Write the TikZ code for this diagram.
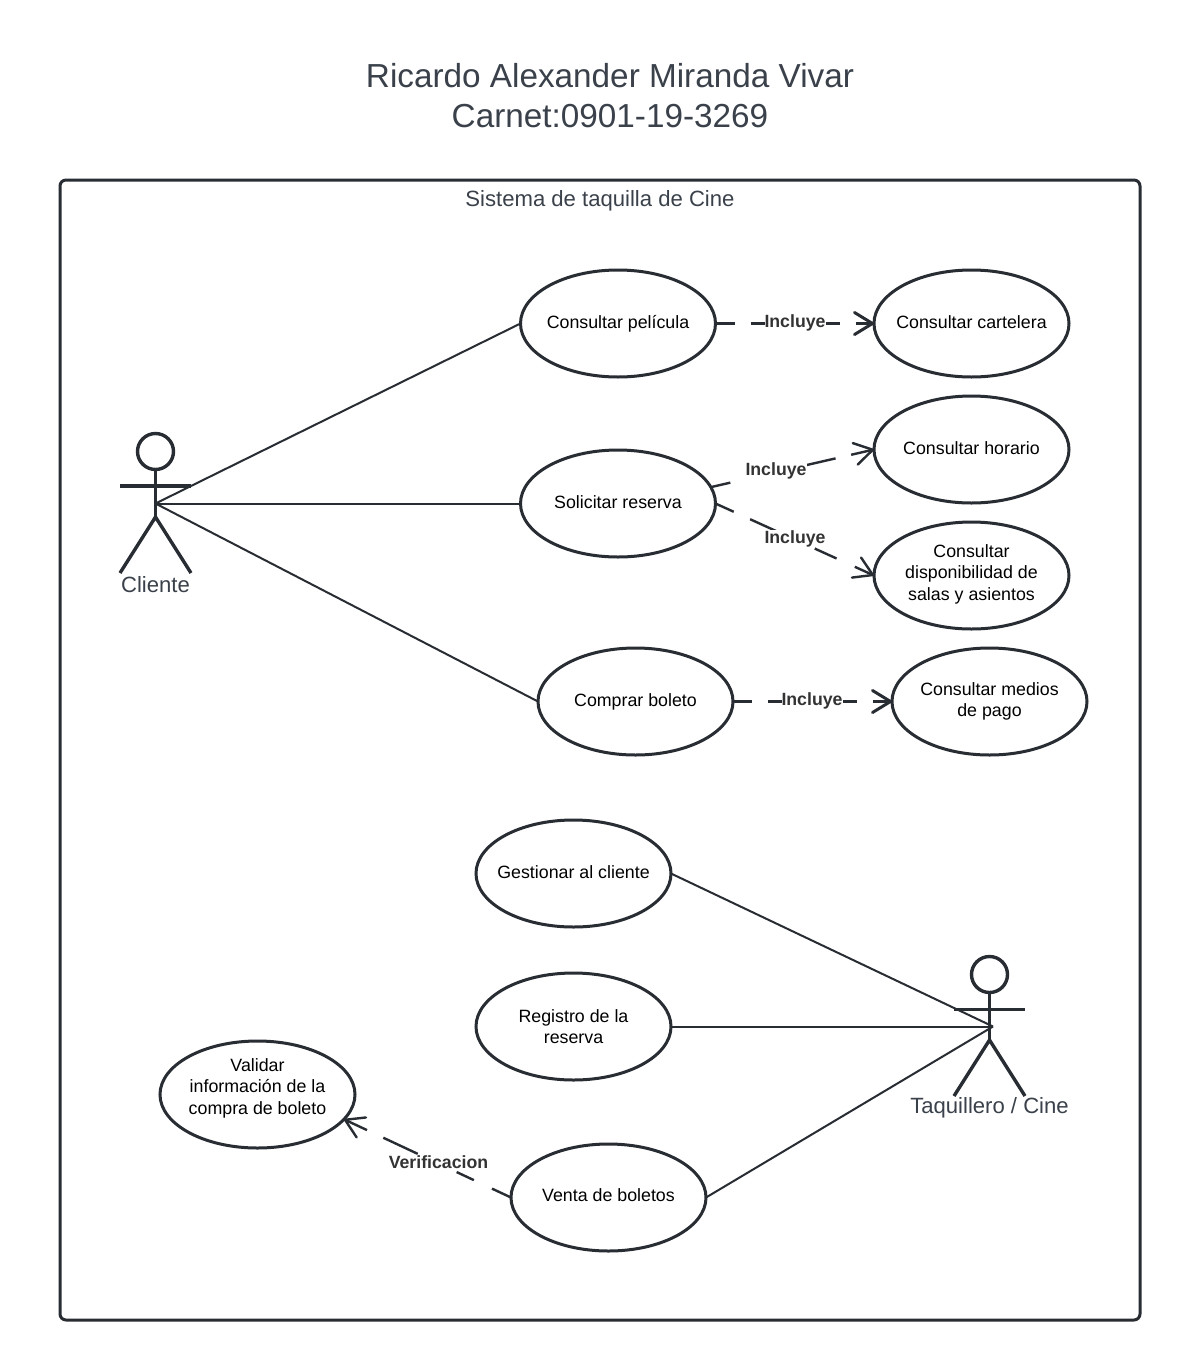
\documentclass[tikz,border=0pt]{standalone}
\usepackage{fontspec}
\setmainfont{Liberation Sans}
\usetikzlibrary{shapes.geometric,arrows.meta}
\definecolor{ink}{HTML}{282C33}
\definecolor{titleink}{HTML}{3A414A}
\definecolor{labelink}{HTML}{333333}
\tikzset{
  usecase/.style={ellipse,draw=ink,line width=3pt,fill=white,minimum width=195pt,minimum height=107pt,inner sep=-40pt,outer sep=0pt,align=center,text=black,font=\fontsize{17.8}{21.7}\selectfont},
  oneline/.style={text height=13pt,text depth=3pt},
  assoc/.style={draw=ink,line width=2pt},
  limb/.style={draw=ink,line width=3.4pt},
  incl/.style={draw=ink,line width=3pt,-{Straight Barb[length=18pt,width=22pt,round]}},
  inclthin/.style={draw=ink,line width=2.4pt,-{Straight Barb[length=18pt,width=22pt,round]}},
  edgelabel/.style={fill=white,inner sep=0pt,outer sep=0pt,text=labelink,font=\fontsize{17.7}{20}\selectfont\bfseries},
  actorlabel/.style={inner sep=0pt,text=titleink,font=\fontsize{22.1}{25}\selectfont},
  headshape/.style={circle,draw=ink,line width=3.4pt,minimum size=36pt,inner sep=0pt,outer sep=0pt}
}
\begin{document}
\begin{tikzpicture}[x=1pt,y=-1pt]
\useasboundingbox (0,0) rectangle (1180,1360);
\fill[white] (0,0) rectangle (1180,1360);

\node[inner sep=0pt,align=center,text=titleink,font=\fontsize{33.3}{40}\selectfont] (title) at (610,96) {Ricardo Alexander Miranda Vivar\\Carnet:0901-19-3269};
\draw[draw=ink,line width=3pt,rounded corners=6pt] (60,180) rectangle (1140,1320);
\node[inner sep=0pt,text=titleink,font=\fontsize{22.1}{25}\selectfont] (system) at (600,201) {Sistema de taquilla de Cine};

% use cases
\node[usecase,oneline] (pelicula) at (618,323.5) {Consultar película};
\node[usecase,oneline] (cartelera) at (971.5,323.5) {Consultar cartelera};
\node[usecase,text height=13pt,text depth=4pt] (reserva) at (618,503.5) {Solicitar reserva};
\node[usecase,oneline] (horario) at (971.5,449.5) {Consultar horario};
\node[usecase,text depth=6.5pt] (dispon) at (971.5,575.5) {Consultar\\disponibilidad de\\salas y asientos};
\node[usecase,oneline] (comprar) at (635.5,701.5) {Comprar boleto};
\node[usecase] (medios) at (989.5,701.5) {Consultar medios\\de pago};
\node[usecase,oneline] (gestionar) at (573.5,873.5) {Gestionar al cliente};
\node[usecase] (registro) at (573.5,1026.5) {Registro de la\\reserva};
\node[usecase,text depth=16pt] (validar) at (257.5,1094.5) {Validar\\información de la\\compra de boleto};
\node[usecase,text height=13pt,text depth=5pt] (venta) at (608.5,1197.5) {Venta de boletos};

% actor Cliente
\node[headshape] (headA) at (155.5,451.5) {};
\coordinate (cliente) at (155.5,503.5);
\coordinate (hipA) at (155.5,517);
\coordinate (armAl) at (120,486);
\coordinate (armAr) at (191,486);
\coordinate (legAl) at (120,573);
\coordinate (legAr) at (191,573);
\draw[limb] (headA.south) -- (hipA);
\draw[limb] (armAl) -- (armAr);
\draw[limb,line join=round] (legAl) -- (hipA) -- (legAr);
\node[actorlabel] (labelA) at (155.5,584.5) {Cliente};

% actor Taquillero
\node[headshape] (headB) at (989.5,974.5) {};
\coordinate (taquillero) at (993,1026.5);
\coordinate (hipB) at (989.5,1040);
\coordinate (armBl) at (954,1009.5);
\coordinate (armBr) at (1025,1009.5);
\coordinate (legBl) at (954,1096);
\coordinate (legBr) at (1025,1096);
\draw[limb] (headB.south) -- (hipB);
\draw[limb] (armBl) -- (armBr);
\draw[limb,line join=round] (legBl) -- (hipB) -- (legBr);
\node[actorlabel] (labelB) at (989.5,1108) {Taquillero / Cine};

% associations
\draw[assoc] (cliente) -- (pelicula.west);
\draw[assoc] (cliente) -- (reserva.west);
\draw[assoc] (cliente) -- (comprar.west);
\draw[assoc] (gestionar.east) -- (taquillero);
\draw[assoc] (registro.east) -- (taquillero);
\draw[assoc] (venta.east) -- (taquillero);

% dependencies
\draw[incl,dash pattern=on 19pt off 16pt] (pelicula.east) -- (cartelera.west);
\node[edgelabel] (l1) at (795,322.5) {Incluye};
\draw[inclthin,dash pattern=on 20pt off 68pt on 40pt off 16pt on 30pt off 10pt] (reserva.10) -- (horario.west);
\node[edgelabel] (l2) at (776,471) {Incluye};
\draw[inclthin,dash pattern=on 20pt off 18pt on 30pt off 41pt on 24pt off 20pt on 30pt off 10pt] (reserva.east) -- (dispon.west);
\node[edgelabel] (l3) at (795,538.5) {Incluye};
\draw[incl,dash pattern=on 19pt off 16pt] (comprar.east) -- (medios.west);
\node[edgelabel] (l4) at (812,700.5) {Incluye};
\draw[inclthin,dash pattern=on 21pt off 20pt on 19pt off 43pt on 38pt off 18pt on 30pt off 10pt] (venta.west) -- (validar.-16);
\node[edgelabel] (l5) at (438.5,1162) {Verificacion};
\end{tikzpicture}
\end{document}
